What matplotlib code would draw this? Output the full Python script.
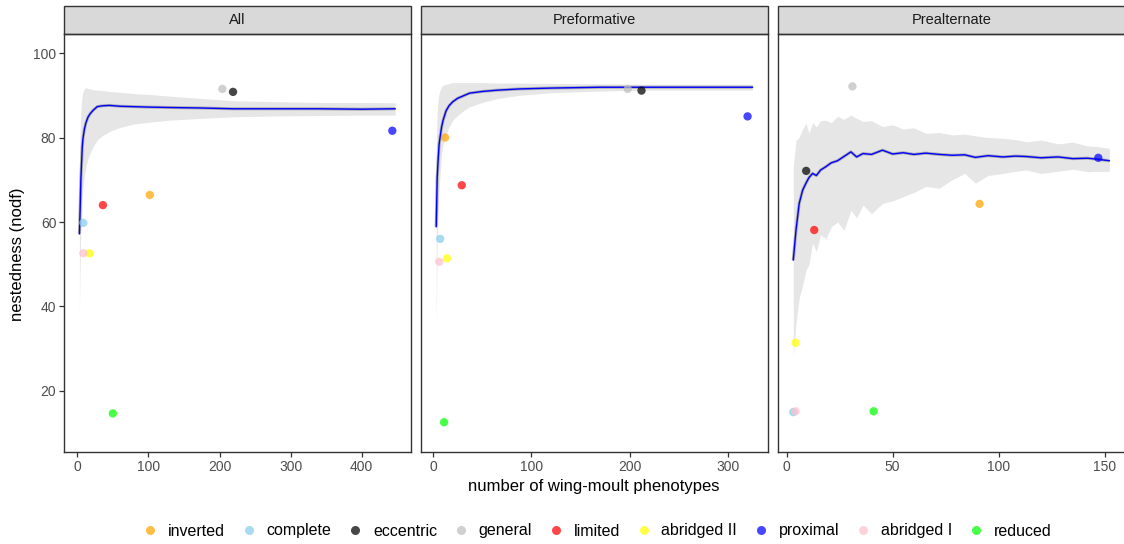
import numpy as np
import matplotlib.pyplot as plt
from matplotlib.patches import Rectangle
from matplotlib.lines import Line2D

plt.rcParams['font.family'] = ['Liberation Sans', 'DejaVu Sans']

# phenotype categories and point colours
cats = ['inverted', 'complete', 'eccentric', 'general', 'limited',
        'abridged II', 'proximal', 'abridged I', 'reduced']
cols = ['orange', 'skyblue', 'black', '#bebebe', 'red',
        'yellow', 'blue', 'pink', 'lime']

panels = ['All', 'Preformative', 'Prealternate']

# observed points: (number of phenotypes, nodf) per category, per panel
pts_x = {
    'All':          [102, 8.5, 219, 204, 36, 17, 443, 8.5, 50],
    'Preformative': [12, 7, 212, 198, 29, 14, 320, 6, 11],
    'Prealternate': [91, 3.1, 9.2, 31, 13, 4.2, 147, 4.2, 41],
}
pts_y = {
    'All':          [66.4, 59.8, 90.8, 91.5, 64.0, 52.6, 81.6, 52.6, 14.7],
    'Preformative': [80.0, 56.0, 91.1, 91.5, 68.7, 51.4, 85.0, 50.6, 12.6],
    'Prealternate': [64.3, 15.0, 72.1, 92.1, 58.1, 31.4, 75.2, 15.2, 15.2],
}

# rarefaction curves: mean with min / max envelope
x_all = [3, 4, 5, 6, 7, 8, 10, 12, 15, 18, 22, 28, 35, 45, 60, 80, 100,
         130, 170, 220, 280, 340, 400, 447]
mean_all = [57.2, 63, 69.9, 74, 77.8, 79.8, 82, 83.4, 84.8, 85.6, 86.4, 87.3,
            87.5, 87.6, 87.4, 87.3, 87.2, 87.1, 87.0, 86.8, 86.8, 86.8, 86.7, 86.8]
up_all = [75, 82, 86, 88.5, 90, 90.8, 91.5, 91.8, 91.6, 91.5, 91.3, 91.2,
          91.1, 90.9, 90.7, 90.4, 90.2, 89.8, 89.3, 88.7, 88.5, 88.3, 88.3, 88.2]
lo_all = [38.5, 50, 58, 62, 66, 68, 71, 73, 75, 76.3, 77.8, 79.4, 80.4, 81.4,
          82.4, 83.2, 83.6, 84.1, 84.5, 84.9, 85.1, 85.2, 85.3, 85.3]

x_pf = [3, 4, 5, 6, 7, 8.5, 10, 13, 16, 20, 25, 30, 37, 50, 65, 88, 120,
        170, 220, 270, 325]
mean_pf = [58.9, 70.5, 75, 78.5, 80.2, 82.5, 84.1, 86.3, 87.5, 88.5, 89.3,
           89.8, 90.5, 90.9, 91.2, 91.5, 91.7, 91.9, 91.9, 91.9, 91.9]
up_pf = [78, 86, 89, 90.5, 91.3, 92, 92.4, 92.6, 92.8, 93, 93, 93, 93, 93,
         92.9, 92.9, 92.8, 92.7, 92.6, 92.6, 92.6]
lo_pf = [35.2, 55, 63, 68, 71.5, 76.3, 78.5, 80.5, 82.5, 84.1, 85.3, 86.2,
         87.3, 88.3, 89.2, 90, 90.6, 91, 91.2, 91.2, 91.2]

x_pa = [3.1, 4.4, 5.9, 7.5, 9.1, 10.5, 12.2, 14, 16, 18.5, 21, 24, 27, 30.3,
        33, 36, 40, 45.2, 50, 55, 60, 65.6, 72, 78, 84, 89, 95, 102, 108, 113,
        120, 128, 135, 142, 147.5, 152.2]
mean_pa = [51.0, 58.1, 64.4, 67.5, 69.2, 70.5, 71.5, 71.0, 72.3, 73.1, 74.0,
           74.5, 75.5, 76.6, 75.4, 76.2, 76.0, 77.0, 76.1, 76.4, 76.0, 76.3,
           76.0, 75.8, 75.9, 75.3, 75.7, 75.4, 75.6, 75.5, 75.2, 75.4, 75.0,
           75.1, 74.8, 74.5]
up_pa = [73, 79.4, 80, 82, 83.4, 81, 83.5, 82.5, 84, 84.1, 83.5, 85, 84.3,
         85.3, 84.5, 83.8, 84, 82.6, 83, 82, 82.3, 81, 81.2, 80.6, 80.8, 80.4,
         80, 79.8, 79.5, 79, 79.4, 78.5, 78.9, 78, 77.8, 77.4]
lo_pa = [28.1, 36, 42, 45, 48.6, 50, 55, 53, 57, 56, 58.9, 60, 58, 62.8, 61,
         64, 62, 64.4, 65, 66, 67, 68.4, 68, 70, 71.5, 69.2, 71, 71.5, 72, 72.3,
         71.5, 72, 72.5, 71.9, 72, 72]

curves = {
    'All': (x_all, mean_all, lo_all, up_all),
    'Preformative': (x_pf, mean_pf, lo_pf, up_pf),
    'Prealternate': (x_pa, mean_pa, lo_pa, up_pa),
}

xticks = {'All': [0, 100, 200, 300, 400],
          'Preformative': [0, 100, 200, 300],
          'Prealternate': [0, 50, 100, 150]}
xlims = {'All': (-18.7, 469.3), 'Preformative': (-12.5, 340.8),
         'Prealternate': (-4.1, 159.6)}

W, H = 1124, 544
fig = plt.figure(figsize=(W / 100, H / 100), dpi=100)

lefts = [64, 421, 778]
pw, pb, ph = 347, 452, 418  # panel width, bottom (px from top), height
for i, name in enumerate(panels):
    ax = fig.add_axes([lefts[i] / W, (H - pb) / H, pw / W, ph / H])
    cx, cm, clo, cup = curves[name]
    # grey envelope, darker halo, mean line
    ax.fill_between(cx, clo, cup, color='#e6e6e6', lw=0, zorder=1)
    ax.plot(cx, cm, color='#adadad', lw=2.2, zorder=2, solid_capstyle='butt')
    ax.plot(cx, cm, color='blue', lw=1, zorder=3)
    # observed phenotypes
    ax.scatter(pts_x[name], pts_y[name], c=cols, s=36, alpha=0.72,
               edgecolors='none', zorder=4)

    ax.set_xlim(*xlims[name])
    ax.set_ylim(5.56, 104.5)
    ax.set_xticks(xticks[name])
    ax.set_yticks([20, 40, 60, 80, 100])
    for s in ax.spines.values():
        s.set_color('#333333')
        s.set_linewidth(1.0)
    ax.tick_params(colors='#333333', labelcolor='#4d4d4d', labelsize=10,
                   length=3.5, width=0.9, pad=2)
    if i > 0:
        ax.tick_params(axis='y', left=False, labelleft=False)

    # facet strip
    sh = 28 / ph
    ax.add_patch(Rectangle((0, 1), 1, sh, transform=ax.transAxes,
                           facecolor='#d9d9d9', edgecolor='#333333', lw=1.0,
                           clip_on=False))
    ax.text(0.5, 1 + sh / 2, name, transform=ax.transAxes, ha='center',
            va='center', fontsize=10.5, color='#1a1a1a')

fig.text(18 / W, 1 - 254 / H, 'nestedness (nodf)', rotation=90,
         ha='center', va='center', fontsize=12, color='black')
fig.text(594 / W, 1 - 487 / H, 'number of wing-moult phenotypes',
         ha='center', va='center', fontsize=12, color='black')

handles = [Line2D([], [], ls='none', marker='o', ms=6.5, color=c, alpha=0.72,
                  mec='none') for c in cols]
fig.legend(handles, cats, loc='center', bbox_to_anchor=(596 / W, 1 - 531 / H),
           ncol=9, frameon=False, fontsize=11.5, handletextpad=0.5,
           columnspacing=0.9, handlelength=1.2)

fig.savefig('out.png', dpi=100)
